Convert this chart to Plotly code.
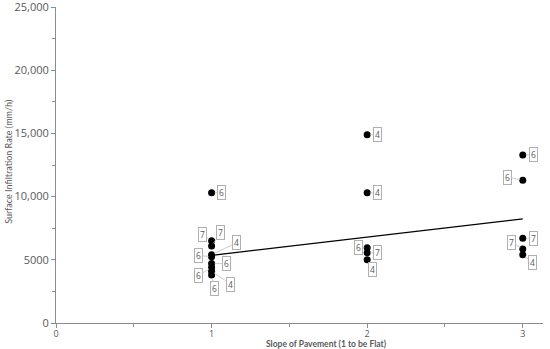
import plotly.graph_objects as go

# ---- data ----
slope = [1, 1, 1, 1, 1, 1, 1, 1, 1,
         2, 2, 2, 2, 2,
         3, 3, 3, 3, 3]
infiltration = [10300, 6500, 6100, 5400, 5250, 4700, 4400, 4100, 3800,
                14900, 10300, 5950, 5550, 5000,
                13300, 11300, 6700, 5850, 5400]
point_labels = ["6", "7", "7", "4", "6", "6", "6", "4", "6",
                "4", "4", "6", "7", "4",
                "6", "6", "7", "7", "4"]
trend_x = [1, 3]
trend_y = [5350, 8230]
y_tickvals = [0, 5000, 10000, 15000, 20000, 25000]
y_ticktext = ["0", "5000", "10,000", "15,000", "20,000", "25,000"]
x_tickvals = [0, 1, 2, 3]
x_ticktext = ["0", "1", "2", "3"]
x_title = "Slope of Pavement (1 to be Flat)"
y_title = "Surface Infiltration Rate (mm/h)"

# label offsets in pixels (layout only)
label_dx = [10, -9, 9, 25, -13, 15, -13, 19, 3,
            10, 10, -9, 10, 5,
            11, -15, 11, -11, 10]
label_dy = [0, -6, -13, -12, -1, 0, 8, 13, 14,
            0, 0, 0, 0, 10,
            0, -3, 0, -7, 8]

grey = "#595959"
axis_col = "#8c8c8c"
font_family = "Open Sans, DejaVu Sans, sans-serif"

fig = go.Figure()
fig.add_trace(go.Scatter(x=trend_x, y=trend_y, mode="lines",
                         line=dict(color="black", width=1.3),
                         hoverinfo="skip", showlegend=False))
fig.add_trace(go.Scatter(x=slope, y=infiltration, mode="markers",
                         marker=dict(color="black", size=7, symbol="circle"),
                         showlegend=False))

for xv, yv, t, dx, dy in zip(slope, infiltration, point_labels, label_dx, label_dy):
    fig.add_annotation(x=xv, y=yv, text=t, showarrow=True, arrowhead=0,
                       arrowwidth=0.8, arrowcolor="#c0c0c0", ax=dx, ay=dy,
                       standoff=3, bordercolor="#b0b0b0", borderwidth=1,
                       borderpad=1, bgcolor="white",
                       font=dict(size=8.5, color=grey, family=font_family))

# axis titles placed as paper annotations
fig.add_annotation(xref="paper", yref="paper", x=0.556, y=0, yshift=-21,
                   text="<b>" + x_title + "</b>", showarrow=False,
                   xanchor="center", yanchor="middle",
                   font=dict(size=8.5, color=grey, family="Lato, Open Sans, sans-serif"))
fig.add_annotation(xref="paper", yref="paper", x=0, xshift=-47, y=0.51,
                   text=y_title, showarrow=False, textangle=-90,
                   xanchor="center", yanchor="middle",
                   font=dict(size=9, color=grey, family="Lato, Open Sans, sans-serif"))

fig.update_layout(
    width=550, height=349,
    margin=dict(l=56, r=7, t=7, b=26, autoexpand=False),
    paper_bgcolor="white", plot_bgcolor="white",
    font=dict(family=font_family, color=grey, size=9),
)
fig.update_xaxes(range=[0, 3.13], tickvals=x_tickvals, ticktext=x_ticktext,
                 automargin=False, ticklabeloverflow="allow",
                 ticklabelstandoff=-2,
                 showgrid=False, zeroline=False, showline=True,
                 linecolor=axis_col, linewidth=1,
                 ticks="outside", ticklen=4, tickcolor=axis_col,
                 minor=dict(ticks="outside", ticklen=3, dtick=0.5, tickcolor=axis_col),
                 tickfont=dict(size=9, color=grey))
fig.update_yaxes(range=[0, 25000], tickvals=y_tickvals, ticktext=y_ticktext,
                 automargin=False, ticklabeloverflow="allow",
                 showgrid=False, zeroline=False, showline=True,
                 linecolor=axis_col, linewidth=1,
                 ticks="outside", ticklen=4, tickcolor=axis_col,
                 minor=dict(ticks="outside", ticklen=3, dtick=2500, tickcolor=axis_col),
                 tickfont=dict(size=11, color=grey))

fig.write_html("out.html", config={"displayModeBar": False},
               post_script="document.body.style.margin='0';document.body.style.overflow='hidden';")
